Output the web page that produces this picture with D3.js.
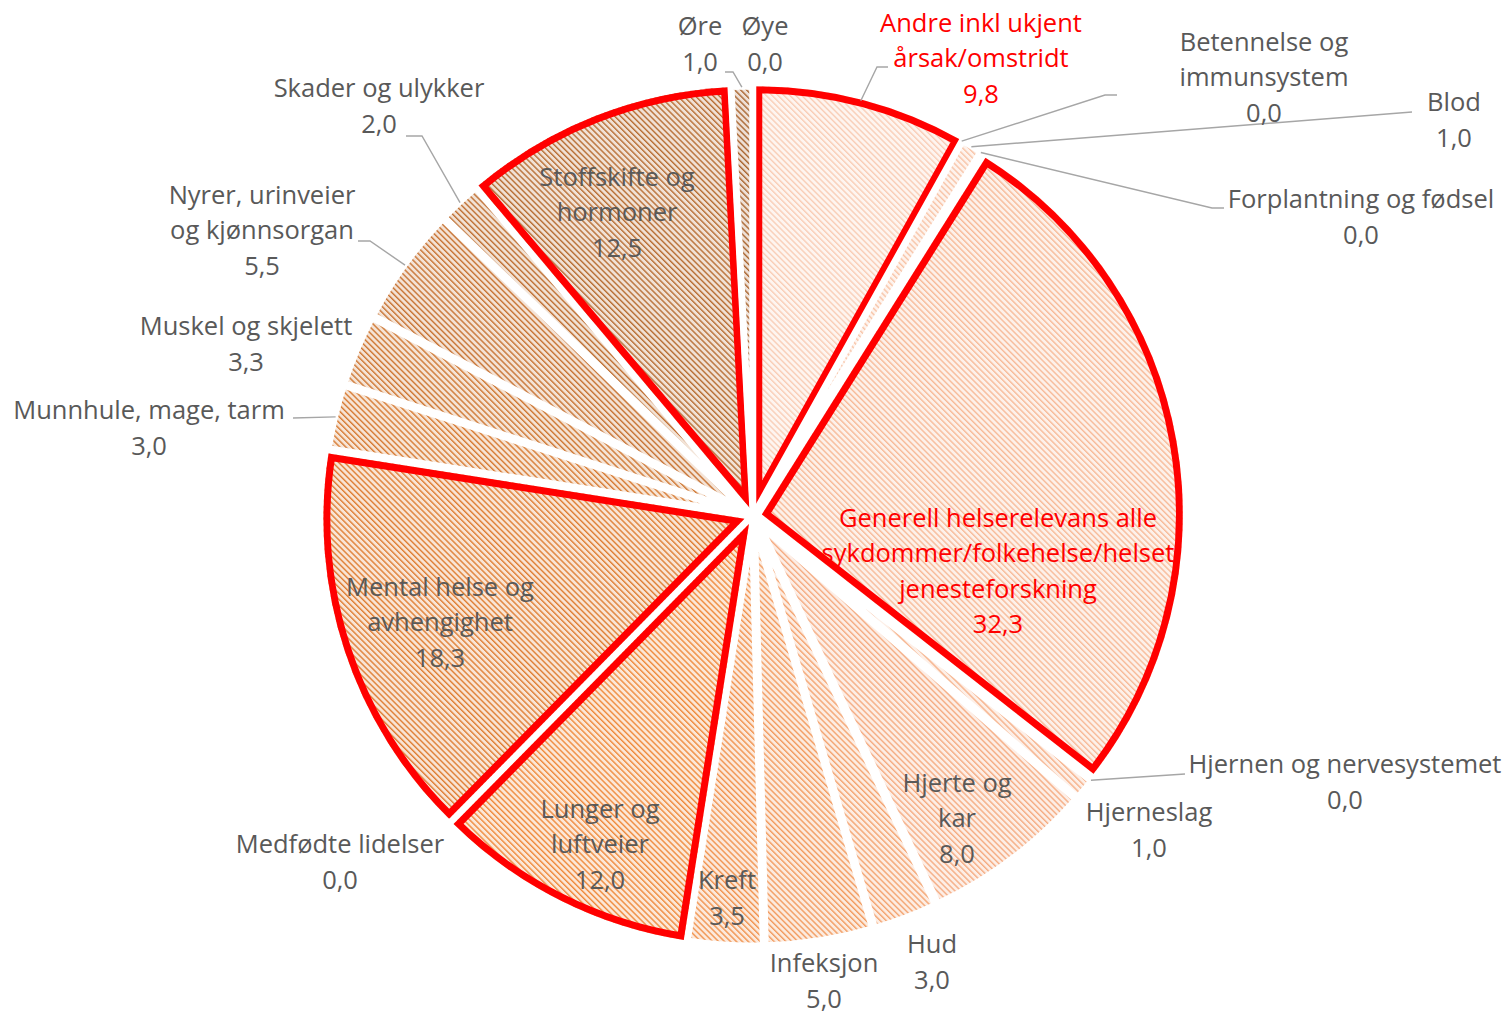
<!DOCTYPE html>
<html>
<head>
<meta charset="utf-8">
<script src="https://cdn.jsdelivr.net/npm/d3@7"></script>
<style>
  html, body { margin: 0; padding: 0; background: #fff; }
  svg { display: block; }
  text { font-family: "Open Sans", Lato, sans-serif; font-size: 25.5px; }
</style>
</head>
<body>
<div id="chart"></div>
<script>
// categories in drawing order, clockwise from 12 o'clock
const categories = [
  "Andre inkl ukjent årsak/omstridt", "Betennelse og immunsystem", "Blod", "Forplantning og fødsel",
  "Generell helserelevans alle sykdommer/folkehelse/helsetjenesteforskning", "Hjernen og nervesystemet",
  "Hjerneslag", "Hjerte og kar", "Hud", "Infeksjon", "Kreft", "Lunger og luftveier", "Medfødte lidelser",
  "Mental helse og avhengighet", "Munnhule, mage, tarm", "Muskel og skjelett",
  "Nyrer, urinveier og kjønnsorgan", "Skader og ulykker", "Stoffskifte og hormoner", "Øre", "Øye"
];
const values = [9.8, 0.0, 1.0, 0.0, 32.3, 0.0, 1.0, 8.0, 3.0, 5.0, 3.5, 12.0, 0.0, 18.3, 3.0, 3.3, 5.5, 2.0, 12.5, 1.0, 0.0];

// label text as it wraps in the chart
const labelLines = [
  ["Andre inkl ukjent", "årsak/omstridt"], ["Betennelse og", "immunsystem"], ["Blod"], ["Forplantning og fødsel"],
  ["Generell helserelevans alle", "sykdommer/folkehelse/helset", "jenesteforskning"], ["Hjernen og nervesystemet"],
  ["Hjerneslag"], ["Hjerte og", "kar"], ["Hud"], ["Infeksjon"], ["Kreft"], ["Lunger og", "luftveier"],
  ["Medfødte lidelser"], ["Mental helse og", "avhengighet"], ["Munnhule, mage, tarm"], ["Muskel og skjelett"],
  ["Nyrer, urinveier", "og kjønnsorgan"], ["Skader og ulykker"], ["Stoffskifte og", "hormoner"], ["Øre"], ["Øye"]
];

// slices with a red border, and labels printed in red
const highlighted = [
  "Andre inkl ukjent årsak/omstridt",
  "Generell helserelevans alle sykdommer/folkehelse/helsetjenesteforskning",
  "Lunger og luftveier", "Mental helse og avhengighet", "Stoffskifte og hormoner"
];
const redLabels = [
  "Andre inkl ukjent årsak/omstridt",
  "Generell helserelevans alle sykdommer/folkehelse/helsetjenesteforskning"
];

// layout: label block centres relative to the pie centre (px)
const labelOffsets = [
  [228, -458], [511, -439], [701, -396], [608, -299], [245, 55], [592, 266], [396, 314], [204, 302],
  [179, 446], [71, 465], [-26, 382], [-153, 328], [-413, 346], [-313, 106], [-604, -88], [-507, -172],
  [-491, -286], [-374, -410], [-136, -304], [-53, -472], [12, -472]
];
// leader lines: category index and the points after the slice edge, relative to the centre
const leaders = [
  [0, [[124, -449], [135, -449]]],
  [1, [[352, -421], [364, -421]]],
  [2, [[659, -404]]],
  [3, [[459, -308], [471, -308]]],
  [5, [[432, 258]]],
  [17, [[-331, -380], [-347, -380]]],
  [16, [[-383, -275], [-395, -275]]],
  [14, [[-460, -98]]],
  [19, [[-20, -444], [-28, -444]]]
];

const width = 1507, height = 1014;
const cx = 753, cy = 516, radius = 421, explode = 9;
const lineHeight = 35.5;

const data = categories.map((c, i) => ({ name: c, value: values[i], index: i }));

// monochrome orange palette running light -> dark over the categories
const fgColor = d3.scaleLinear()
  .domain([0, 7, 11, 13, 18, 20])
  .range(["#F9CDB6", "#F5AC82", "#EF8A3C", "#DF7E33", "#B86E34", "#9C5E2C"])
  .interpolate(d3.interpolateRgb);
const bgColor = i => d3.interpolateRgb(fgColor(i), "#fff")(0.8);

const svg = d3.select("#chart")
  .append("svg")
  .attr("width", width)
  .attr("height", height);

const pie = d3.pie()
  .sort(null)
  .value(d => d.value)
  .startAngle(0)
  .endAngle(2 * Math.PI);
const arcs = pie(data);
const arc = d3.arc().innerRadius(0).outerRadius(radius);

const shift = a => {
  const m = (a.startAngle + a.endAngle) / 2;
  return [explode * Math.sin(m), -explode * Math.cos(m)];
};
const isHi = d => highlighted.includes(d.data.name);

// striped pattern and a clip for each slice
const defs = svg.append("defs");
data.forEach(d => {
  const p = defs.append("pattern")
    .attr("id", "pat" + d.index)
    .attr("patternUnits", "userSpaceOnUse")
    .attr("width", 4.2)
    .attr("height", 10)
    .attr("patternTransform", "rotate(-45)");
  p.append("rect").attr("width", 4.2).attr("height", 10).attr("fill", bgColor(d.index));
  p.append("rect").attr("width", 1.4).attr("height", 10).attr("fill", fgColor(d.index));
});
arcs.filter(isHi).forEach(a => {
  defs.append("clipPath")
    .attr("id", "clip" + a.data.index)
    .append("path")
    .attr("d", arc(a));
});

const pieG = svg.append("g").attr("transform", `translate(${cx},${cy})`);

const slices = pieG.selectAll("g.slice")
  .data(arcs.filter(a => a.value > 0))
  .join("g")
  .attr("class", "slice")
  .attr("transform", d => `translate(${shift(d)})`);

slices.append("path")
  .attr("d", arc)
  .attr("fill", d => `url(#pat${d.data.index})`)
  .attr("stroke", d => isHi(d) ? "none" : "#fff")
  .attr("stroke-width", 7)
  .attr("stroke-linejoin", "miter");

// red border kept inside the slice
slices.filter(isHi)
  .append("path")
  .attr("d", arc)
  .attr("fill", "none")
  .attr("stroke", "#FF0000")
  .attr("stroke-width", 14)
  .attr("stroke-linejoin", "miter")
  .attr("clip-path", d => `url(#clip${d.data.index})`);

// leader lines start on the outer edge at the slice's mid angle
const leaderLine = d3.line();
pieG.selectAll("path.leader")
  .data(leaders)
  .join("path")
  .attr("class", "leader")
  .attr("d", ([i, pts]) => {
    const a = arcs[i];
    const m = (a.startAngle + a.endAngle) / 2;
    const r = radius + explode - 1;
    return leaderLine([[r * Math.sin(m), -r * Math.cos(m)], ...pts]);
  })
  .attr("fill", "none")
  .attr("stroke", "#A6A6A6")
  .attr("stroke-width", 1.4);

// data labels: name lines plus the value
const fmt = v => d3.format(".1f")(v).replace(".", ",");
const labels = pieG.selectAll("text.label")
  .data(data)
  .join("text")
  .attr("class", "label")
  .attr("text-anchor", "middle")
  .attr("fill", d => redLabels.includes(d.name) ? "#FF0000" : "#595959");

labels.each(function(d) {
  const lines = [...labelLines[d.index], fmt(d.value)];
  const [ox, oy] = labelOffsets[d.index];
  const top = oy - (lines.length - 1) / 2 * lineHeight;
  d3.select(this).selectAll("tspan")
    .data(lines)
    .join("tspan")
    .attr("x", ox)
    .attr("y", (l, k) => top + k * lineHeight + 9)
    .text(l => l);
});
</script>
</body>
</html>
